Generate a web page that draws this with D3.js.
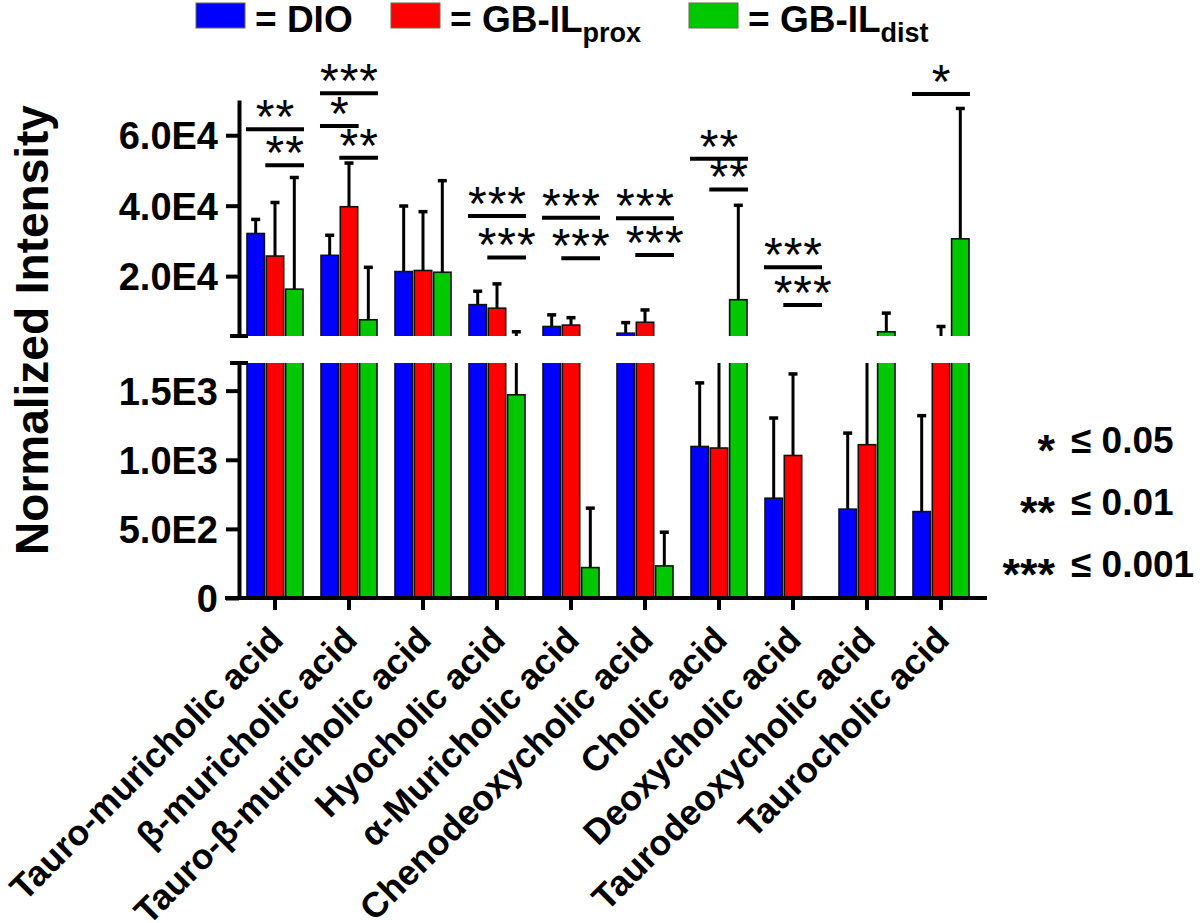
<!DOCTYPE html>
<html><head><meta charset="utf-8">
<script src="https://cdn.jsdelivr.net/npm/d3@7"></script>
<style>
body{margin:0;background:#fff}
svg{display:block}
text{font-family:"Liberation Sans",Arial,sans-serif}
</style>
</head><body><div id="chart"></div>
<script>
// ---------------- data ----------------
const categories = ["Tauro-muricholic acid","β-muricholic acid","Tauro-β-muricholic acid","Hyocholic acid","α-Muricholic acid","Chenodeoxycholic acid","Cholic acid","Deoxycholic acid","Taurodeoxycholic acid","Taurocholic acid"];
const seriesKeys = ["DIO","GB-IL prox","GB-IL dist"];
const dioMean  = [32100, 25900, 21300, 11900, 5700, 3800, 1096, 722, 643, 625];
const dioSD    = [4000, 5700, 18600, 3800, 3300, 3000, 460, 580, 550, 694];
const proxMean = [25700, 39700, 21600, 10900, 6100, 6900, 1085, 1031, 1109, 2500];
const proxSD   = [15200, 12400, 16700, 6900, 2100, 3500, 1415, 590, 1391, 3200];
const distMean = [16300, 7600, 21100, 1470, 220, 232, 13300, 0, 4200, 30600];
const distSD   = [31700, 14900, 26000, 2730, 430, 244, 26800, 0, 5300, 37000];

const upperTickValues = [20000, 40000, 60000];
const upperTickLabels = ["2.0E4", "4.0E4", "6.0E4"];
const lowerTickValues = [0, 500, 1000, 1500];
const lowerTickLabels = ["0", "5.0E2", "1.0E3", "1.5E3"];

// significance brackets (category index, from series, to series, height in data units, label)
const bracketCat   = [0, 0, 1, 1, 1, 3, 3, 4, 4, 5, 5, 6, 6, 7, 7, 9];
const bracketFrom  = [0, 1, 0, 0, 1, 0, 1, 0, 1, 0, 1, 0, 1, 0, 1, 0];
const bracketTo    = [2, 2, 2, 1, 2, 2, 2, 2, 2, 2, 2, 2, 2, 2, 2, 2];
const bracketLevel = [61700, 51500, 71900, 62600, 53600, 37100, 25300, 36600, 25100, 36400, 26000, 53300, 44600, 22500, 11800, 71700];
const bracketStars = ["**","**","***","*","**","***","***","***","***","***","***","**","**","***","***","*"];

const sigStars = ["*", "**", "***"];
const sigText  = ["≤ 0.05", "≤ 0.01", "≤ 0.001"];

const legendMain = ["= DIO", "= GB-IL", "= GB-IL"];
const legendSub  = ["", "prox", "dist"];
const colors = ["#0000ff", "#ff0000", "#00c800"];

// ---------------- chart ----------------
const W = 1200, H = 923;
const svg = d3.select("#chart").append("svg").attr("width", W).attr("height", H);

const axisX = 239;
const yU = d3.scaleLinear().domain([3000, 70000]).range([336, 100]);
const yL = d3.scaleLinear().domain([0, 1700]).range([598, 363]);
const x0 = d3.scaleBand().domain(categories).range([238, 978]).paddingInner(0.243).paddingOuter(0.1215);
const x1 = d3.scaleBand().domain(d3.range(3)).range([0, x0.bandwidth()]).paddingInner(0.1);

const means = [dioMean, proxMean, distMean];
const sds = [dioSD, proxSD, distSD];

const defs = svg.append("defs");
defs.append("clipPath").attr("id", "clipU").append("rect").attr("x", 0).attr("y", 0).attr("width", W).attr("height", 336);
defs.append("clipPath").attr("id", "clipL").append("rect").attr("x", 0).attr("y", 363).attr("width", W).attr("height", 235);

const segments = [
  {scale: yU, clip: "clipU", lo: 3000, bottom: 336, top: 100},
  {scale: yL, clip: "clipL", lo: 0, bottom: 598, top: 363}
];

const cells = [];
categories.forEach((c, i) => {
  for (let j = 0; j < 3; j++) cells.push({cat: c, i, j, v: means[j][i], sd: sds[j][i]});
});

segments.forEach(seg => {
  const g = svg.append("g").attr("clip-path", `url(#${seg.clip})`);
  const clampY = y => Math.max(seg.top - 40, Math.min(seg.bottom + 20, y));
  // error bars
  cells.filter(d => d.sd > 0).forEach(d => {
    const cx = x0(d.cat) + x1(d.j) + x1.bandwidth() / 2;
    const y1 = clampY(seg.scale(d.v));
    const y2 = clampY(seg.scale(d.v + d.sd));
    g.append("line").attr("x1", cx).attr("x2", cx).attr("y1", y1).attr("y2", y2)
      .attr("stroke", "#000").attr("stroke-width", 3);
    g.append("line").attr("x1", cx - 4.5).attr("x2", cx + 4.5).attr("y1", y2).attr("y2", y2)
      .attr("stroke", "#000").attr("stroke-width", 3.5);
  });
  // bars
  g.selectAll("rect.bar").data(cells.filter(d => d.v > seg.lo)).join("rect")
    .attr("class", "bar")
    .attr("x", d => x0(d.cat) + x1(d.j))
    .attr("width", x1.bandwidth())
    .attr("y", d => clampY(seg.scale(d.v)))
    .attr("height", d => seg.bottom + 6 - clampY(seg.scale(d.v)))
    .attr("fill", d => colors[d.j])
    .attr("stroke", "#111").attr("stroke-width", 1.6);
});

// y axes
function styleAxis(g) {
  g.selectAll("path.domain").attr("stroke", "#000").attr("stroke-width", 4);
  g.selectAll(".tick line").attr("stroke", "#000").attr("stroke-width", 4);
  g.selectAll(".tick text").attr("fill", "#000").style("font-size", "38px").style("font-weight", "bold")
    .attr("dy", "0.36em");
}
const gU = svg.append("g").attr("transform", `translate(${axisX},0)`)
  .call(d3.axisLeft(yU).tickValues(upperTickValues).tickFormat((d, i) => upperTickLabels[i])
    .tickSize(13).tickSizeOuter(0).tickPadding(8));
styleAxis(gU);
const gL = svg.append("g").attr("transform", `translate(${axisX},0)`)
  .call(d3.axisLeft(yL).tickValues(lowerTickValues).tickFormat((d, i) => lowerTickLabels[i])
    .tickSize(13).tickSizeOuter(0).tickPadding(8));
styleAxis(gL);
// break stubs
[yU.range()[0], yL.range()[1]].forEach(y => {
  svg.append("line").attr("x1", axisX - 9).attr("x2", axisX + 9).attr("y1", y).attr("y2", y)
    .attr("stroke", "#000").attr("stroke-width", 4);
});

// x axis
svg.append("line").attr("x1", 225).attr("x2", 987).attr("y1", yL(0)).attr("y2", yL(0))
  .attr("stroke", "#000").attr("stroke-width", 4);
const gX = svg.append("g").attr("transform", `translate(0,${yL(0)})`)
  .call(d3.axisBottom(x0).tickSize(12).tickSizeOuter(0));
gX.select("path.domain").remove();
gX.selectAll(".tick line").attr("stroke", "#000").attr("stroke-width", 4);
gX.selectAll(".tick text")
  .attr("x", 0).attr("y", 0).attr("dy", 0)
  .attr("transform", "translate(10,44) rotate(-45)")
  .style("text-anchor", "end").style("font-size", "35.5px").style("font-weight", "bold").attr("fill", "#000");

// y title
svg.append("text").attr("transform", "translate(48,330) rotate(-90)")
  .attr("text-anchor", "middle").style("font-size", "46px").style("font-weight", "bold")
  .text("Normalized Intensity");

// brackets
bracketCat.forEach((ci, k) => {
  const cat = categories[ci];
  const xa = x0(cat) + x1(bracketFrom[k]) - 1;
  const xb = x0(cat) + x1(bracketTo[k]) + x1.bandwidth() + 1;
  const y = yU(bracketLevel[k]);
  svg.append("line").attr("x1", xa).attr("x2", xb).attr("y1", y).attr("y2", y)
    .attr("stroke", "#000").attr("stroke-width", 4);
  svg.append("text").attr("x", (xa + xb) / 2 + 0.5).attr("y", y + 4)
    .attr("text-anchor", "middle").style("font-size", "48px").style("letter-spacing", "1px")
    .text(bracketStars[k]);
});

// top legend
const legX = [196, 391, 689];
legX.forEach((lx, k) => {
  svg.append("rect").attr("x", lx).attr("y", 3).attr("width", 49).attr("height", 25)
    .attr("fill", colors[k]).attr("stroke", "#6b6b4a").attr("stroke-width", 1);
  const t = svg.append("text").attr("x", lx + 59).attr("y", 32)
    .style("font-size", "37px").style("font-weight", "bold");
  t.append("tspan").text(legendMain[k]);
  if (legendSub[k]) t.append("tspan").attr("dy", 10).style("font-size", "27px").text(legendSub[k]);
});

// significance legend
const sigBase = [453, 515, 577];
sigStars.forEach((s, k) => {
  svg.append("text").attr("x", 1055).attr("y", sigBase[k] + 13).attr("text-anchor", "end")
    .style("font-size", "45px").style("font-weight", "bold").text(s);
  svg.append("text").attr("x", 1071).attr("y", sigBase[k])
    .style("font-size", "37px").style("font-weight", "bold").text(sigText[k]);
});
</script>
</body></html>
